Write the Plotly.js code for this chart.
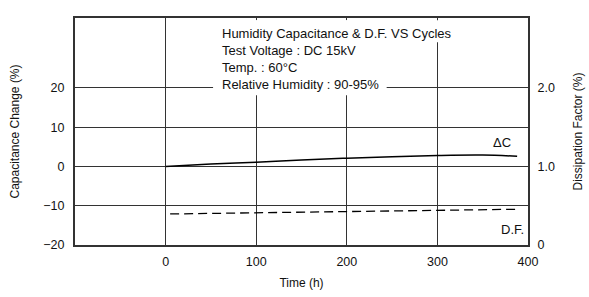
<!DOCTYPE html>
<html>
<head>
<meta charset="utf-8">
<script src="https://cdn.plot.ly/plotly-3.0.1.min.js"></script>
<style>html,body{margin:0;padding:0;background:#fff;}#chart{width:589px;height:297px;}</style>
</head>
<body>
<div id="chart"></div>
<script>
// Data
const capTime = [0, 50, 100, 150, 200, 250, 300, 350, 388];
const capChange = [0, 0.6, 1.1, 1.65, 2.1, 2.5, 2.8, 2.9, 2.6];
const dfTime = [5, 100, 200, 300, 387];
const dfValue = [0.395, 0.41, 0.425, 0.44, 0.455];
const xTicks = [0, 100, 200, 300, 400];
const yTicks = [-20, -10, 0, 10, 20];
const y2Ticks = [0, 1, 2];
const y2TickText = ['0', '1.0', '2.0'];
const infoLines = ['Humidity Capacitance &amp; D.F. VS Cycles', 'Test Voltage : DC 15kV', 'Temp. : 60°C', 'Relative Humidity : 90-95%'];

const font = {family: 'Arial, "Liberation Sans", sans-serif', size: 12, color: '#111'};
const tickFont = {family: 'Arial, "Liberation Sans", sans-serif', size: 12.5, color: '#111'};
const noteFont = {family: 'Arial, "Liberation Sans", sans-serif', size: 13, color: '#111'};

const traces = [
  {x: capTime, y: capChange, type: 'scatter', mode: 'lines', line: {color: '#000', width: 1.5, shape: 'spline'}, xaxis: 'x', yaxis: 'y', hoverinfo: 'skip'},
  {x: dfTime, y: dfValue, type: 'scatter', mode: 'lines', line: {color: '#000', width: 1.3, dash: '9px,5px'}, xaxis: 'x', yaxis: 'y2', hoverinfo: 'skip'}
];

const layout = {
  width: 589, height: 297,
  margin: {l: 75, r: 61, t: 18, b: 52},
  paper_bgcolor: '#fff', plot_bgcolor: '#fff',
  font: font,
  showlegend: false,
  xaxis: {
    range: [-100, 400], tickvals: xTicks, ticktext: xTicks.map(String), tickfont: tickFont,
    showgrid: true, gridcolor: '#333', gridwidth: 1, zeroline: false,
    showline: true, linecolor: '#333', linewidth: 2, mirror: true,
    ticks: 'outside', ticklen: 4, tickcolor: 'rgba(0,0,0,0)',
    title: {text: 'Time (h)', font: font, standoff: 11}
  },
  yaxis: {
    range: [-20, 37.8], tickvals: yTicks, tickfont: tickFont,
    showgrid: true, gridcolor: '#333', gridwidth: 1, zeroline: false,
    showline: true, linecolor: '#333', linewidth: 2, mirror: true,
    ticks: 'outside', ticklen: 6, tickcolor: 'rgba(0,0,0,0)',
    title: {text: 'Capacitance Change (%)', font: font, standoff: 21}
  },
  yaxis2: {
    overlaying: 'y', side: 'right', range: [0, 2.89], tickvals: y2Ticks, ticktext: y2TickText, tickfont: tickFont,
    showgrid: false, zeroline: false, showline: false,
    ticks: 'outside', ticklen: 6, tickcolor: 'rgba(0,0,0,0)',
    title: {text: 'Dissipation Factor (%)', font: font, standoff: 19}
  },
  shapes: [
    {type: 'rect', xref: 'x', yref: 'y', x0: 52.4, x1: 244, y0: 18.1, y1: 37.2, fillcolor: '#fff', line: {width: 0}, layer: 'above'},
    {type: 'rect', xref: 'x', yref: 'y', x0: 52.4, x1: 318, y0: 31.6, y1: 37.2, fillcolor: '#fff', line: {width: 0}, layer: 'above'}
  ],
  annotations: [
    {xref: 'x', yref: 'y', x: 60, y: 36.3, xanchor: 'left', yanchor: 'top', align: 'left', showarrow: false, text: infoLines.join('<br>'), font: noteFont},
    {xref: 'x', yref: 'y', x: 371, y: 6.1, showarrow: false, text: 'ΔC', font: noteFont},
    {xref: 'x', yref: 'y', x: 383, y: -16, showarrow: false, text: 'D.F.', font: noteFont}
  ]
};

Plotly.newPlot('chart', traces, layout, {staticPlot: true, displayModeBar: false});
</script>
</body>
</html>
